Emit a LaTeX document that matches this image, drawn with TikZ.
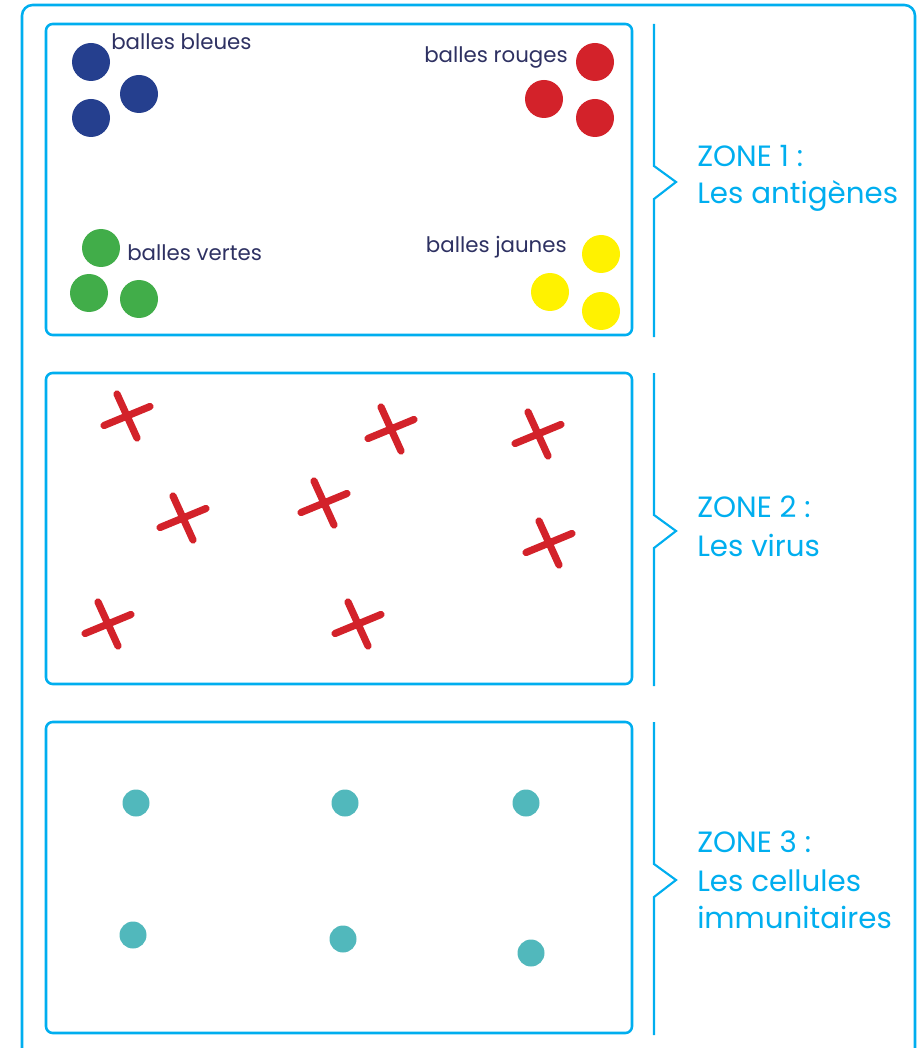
\documentclass[tikz,border=0pt]{standalone}
\usepackage{fontspec}
\setmainfont{Poppins}
\usepackage{tikz}
\definecolor{zonecyan}{HTML}{00AEEF}
\definecolor{labelnavy}{HTML}{2E3162}
\definecolor{ballblue}{HTML}{253F8E}
\definecolor{ballred}{HTML}{D3222A}
\definecolor{ballgreen}{HTML}{41AD49}
\definecolor{ballyellow}{HTML}{FFF200}
\definecolor{cellteal}{HTML}{51B8BC}
\tikzset{
  zonebox/.style={draw=zonecyan, line width=1.9pt, rounded corners=5pt},
  zonebrace/.style={draw=zonecyan, line width=1.6pt},
  zonetext/.style={text=zonecyan, font=\fontsize{22}{26}\selectfont, anchor=base west, inner sep=0pt},
  balllabel/.style={text=labelnavy, font=\fontsize{16}{19}\selectfont, inner sep=0pt},
  virus/.style={draw=ballred, line width=5.4pt, line cap=round},
}

\begin{document}
\begin{tikzpicture}[x=0.75pt, y=-0.75pt]
    \useasboundingbox (0,0) rectangle (919,1048);
    % outer frame, open at the bottom
    \draw[zonebox, rounded corners=8pt] (22,1060) -- (22,5) -- (915,5) -- (915,1060);
    % the three zones and their braces
    \foreach \dy in {0,349,698} {
        \draw[zonebox] (46,24+\dy) rectangle (632,335+\dy);
        \draw[zonebrace] (654,24+\dy) -- (654,166+\dy) -- (676,182+\dy) -- (654,199+\dy) -- (654,337+\dy);
    }

    % zone 1: the antigens
    \foreach \x/\y in {91/62,139/94,91/118} {\fill[ballblue] (\x,\y) circle (19);}
    \foreach \x/\y in {595/62,544/99,595/118} {\fill[ballred] (\x,\y) circle (19);}
    \foreach \x/\y in {101/248,89/293,139/299} {\fill[ballgreen] (\x,\y) circle (19);}
    \foreach \x/\y in {601/254,550/292,601/311} {\fill[ballyellow] (\x,\y) circle (19);}
    \node[balllabel, anchor=base west] (bleues) at (111,50) {balles bleues};
    \node[balllabel, anchor=base east] (rouges) at (568,63) {balles rouges};
    \node[balllabel, anchor=base west] (vertes) at (127,261) {balles vertes};
    \node[balllabel, anchor=base east] (jaunes) at (567,253) {balles jaunes};

    % zone 2: the viruses
    \foreach \cx/\cy in {127/416,391/429,538/434,183/518,324/503,549/543,108/624,358/624} {
        \draw[virus] (\cx-10,\cy-22) -- (\cx+10,\cy+22);
        \draw[virus] (\cx-23,\cy+9.5) -- (\cx+23,\cy-9.5);
    }

    % zone 3: the immune cells
    \foreach \x/\y in {136/803,345/803,526/803,133/935,343/939,531/953} {\fill[cellteal] (\x,\y) circle (13.5);}

    % zone titles
    \node[zonetext] (zoneone) at (697,167) {ZONE 1 :};
    \node[zonetext] (zoneonetxt) at (697,204) {Les antigènes};
    \node[zonetext] (zonetwo) at (697,517) {ZONE 2 :};
    \node[zonetext] (zonetwotxt) at (697,556) {Les virus};
    \node[zonetext] (zonethree) at (697,852) {ZONE 3 :};
    \node[zonetext] (zonethreetxt) at (697,891) {Les cellules};
    \node[zonetext] (zonethreetxtb) at (697,928) {immunitaires};
\end{tikzpicture}
\end{document}
